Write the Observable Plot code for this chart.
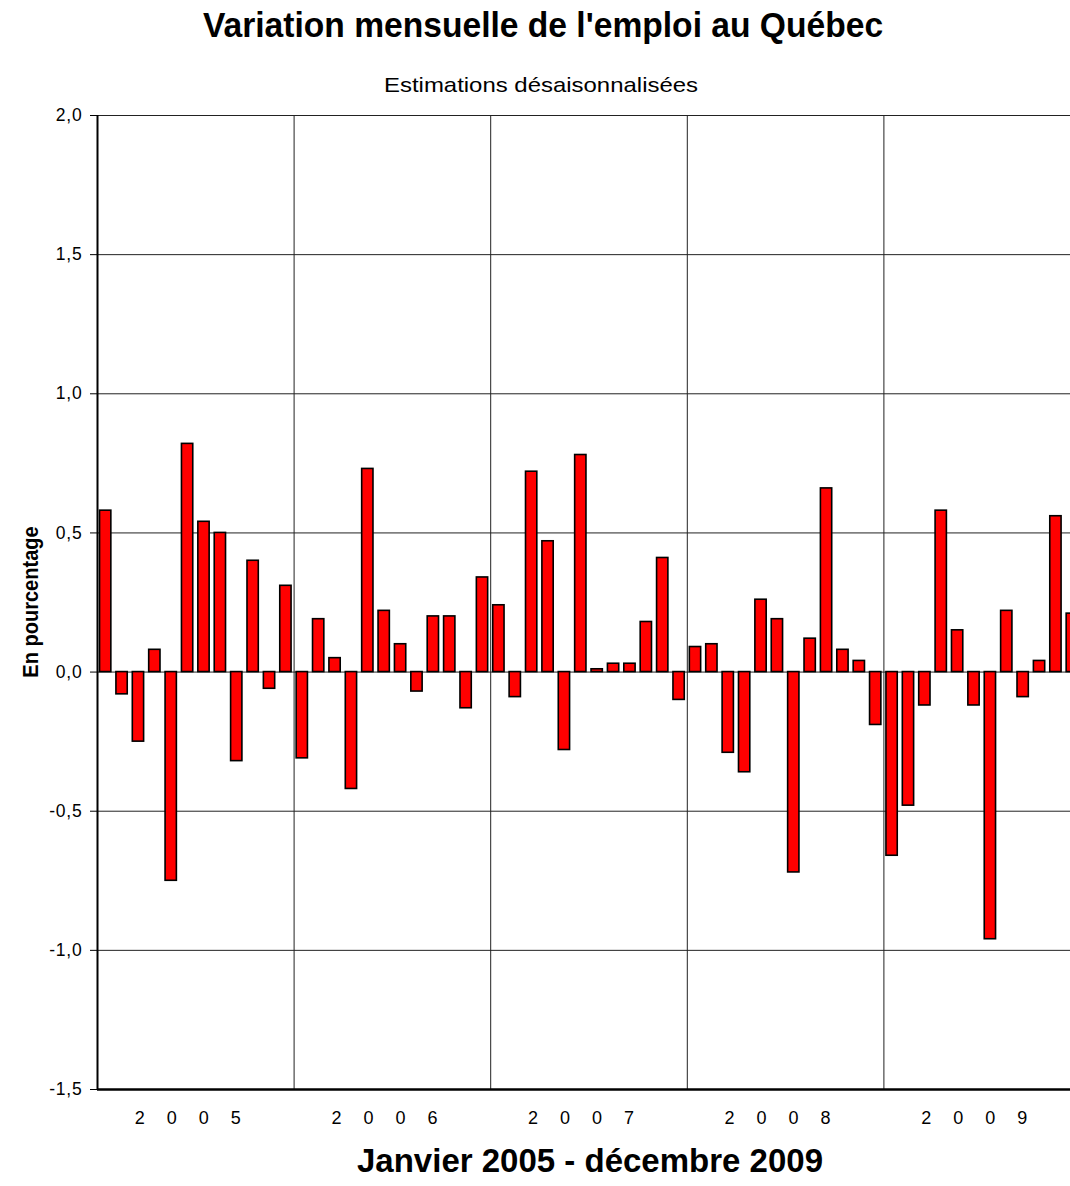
<!DOCTYPE html>
<html>
<head>
<meta charset="utf-8">
<script src="https://cdn.jsdelivr.net/npm/d3@7"></script>
<script src="https://cdn.jsdelivr.net/npm/@observablehq/plot@0.6"></script>
<style>
  html, body { margin: 0; padding: 0; background: #fff; overflow: hidden; width: 1070px; height: 1186px; }
  #wrap { position: relative; width: 1070px; height: 1186px; overflow: hidden; font-family: "Liberation Sans", Arial, sans-serif; }
  #chart { position: absolute; left: 0; top: 0; width: 1090px; height: 1186px; }
  #chart svg { max-width: none !important; width: 1090px !important; height: 1186px !important; }
  .lbl { position: absolute; white-space: nowrap; color: #000; line-height: 1; }
  #title { top: 7px; left: 543px; transform: translateX(-50%) scaleX(0.96); font-size: 35px; font-weight: bold; }
  #subtitle { top: 74px; left: 541px; transform: translateX(-50%) scaleX(1.14); font-size: 21px; }
  #xtitle { top: 1144px; left: 590px; transform: translateX(-50%); font-size: 33px; font-weight: bold; }
  #ytitle { top: 602px; left: 31px; transform: translate(-50%, -50%) rotate(-90deg) scaleX(0.91); font-size: 22px; font-weight: bold; }
  g[aria-description="years"] text { letter-spacing: 22px; }
  g[aria-label="y-axis tick label"] text { letter-spacing: 0.8px; }
</style>
</head>
<body>
<div id="wrap">
  <div id="chart"></div>
  <div class="lbl" id="title">Variation mensuelle de l'emploi au Québec</div>
  <div class="lbl" id="subtitle">Estimations désaisonnalisées</div>
  <div class="lbl" id="xtitle">Janvier 2005 - décembre 2009</div>
  <div class="lbl" id="ytitle">En pourcentage</div>
</div>
<script>
// Years shown on the x axis
const years = [2005, 2006, 2007, 2008, 2009];

// Monthly employment change (%), January 2005 – December 2009
const values2005 = [0.58, -0.08, -0.25, 0.08, -0.75, 0.82, 0.54, 0.50, -0.32, 0.40, -0.06, 0.31];
const values2006 = [-0.31, 0.19, 0.05, -0.42, 0.73, 0.22, 0.10, -0.07, 0.20, 0.20, -0.13, 0.34];
const values2007 = [0.24, -0.09, 0.72, 0.47, -0.28, 0.78, 0.01, 0.03, 0.03, 0.18, 0.41, -0.10];
const values2008 = [0.09, 0.10, -0.29, -0.36, 0.26, 0.19, -0.72, 0.12, 0.66, 0.08, 0.04, -0.19];
const values2009 = [-0.66, -0.48, -0.12, 0.58, 0.15, -0.12, -0.96, 0.22, -0.09, 0.04, 0.56, 0.21];

// Y axis ticks
const yTicks = [-1.5, -1.0, -0.5, 0.0, 0.5, 1.0, 1.5, 2.0];

const allValues = [...values2005, ...values2006, ...values2007, ...values2008, ...values2009];
const data = allValues.map((v, i) => ({month: i, v}));
const yearData = years.map((y, i) => ({year: y, start: i * 12, mid: i * 12 + 6}));

const fmt = d => d.toFixed(1).replace(".", ",");

const chart = Plot.plot({
  width: 1090,
  height: 1186,
  marginLeft: 97,
  marginRight: 10,
  marginTop: 115,
  marginBottom: 97,
  style: {fontFamily: "'Liberation Sans', Arial, sans-serif", fontSize: "17.5px", background: "transparent", maxWidth: "none", overflow: "visible"},
  x: {domain: [0, 60], axis: null},
  y: {domain: [-1.5, 2], ticks: yTicks, tickFormat: fmt, tickSize: 7, tickPadding: 8, label: null},
  marks: [
    Plot.ruleY(yTicks, {stroke: "#222", strokeWidth: 1}),
    Plot.ruleX(yearData, {x: "start", stroke: "#222", strokeWidth: 1}),
    Plot.rectY(data, {
      x1: d => d.month + 0.155,
      x2: d => d.month + 0.845,
      y: "v",
      fill: "#ff0000",
      stroke: "#000",
      strokeWidth: 1.6
    }),
    Plot.ruleX([0], {stroke: "#000", strokeWidth: 2}),
    Plot.ruleY([-1.5], {stroke: "#000", strokeWidth: 2.5}),
    Plot.text(yearData, {
      x: "mid",
      y: -1.5,
      text: d => String(d.year),
      dy: 29,
      dx: 3,
      fontSize: 18,
      fill: "#000",
      ariaDescription: "years"
    })
  ]
});
document.getElementById("chart").appendChild(chart);
</script>
</body>
</html>
